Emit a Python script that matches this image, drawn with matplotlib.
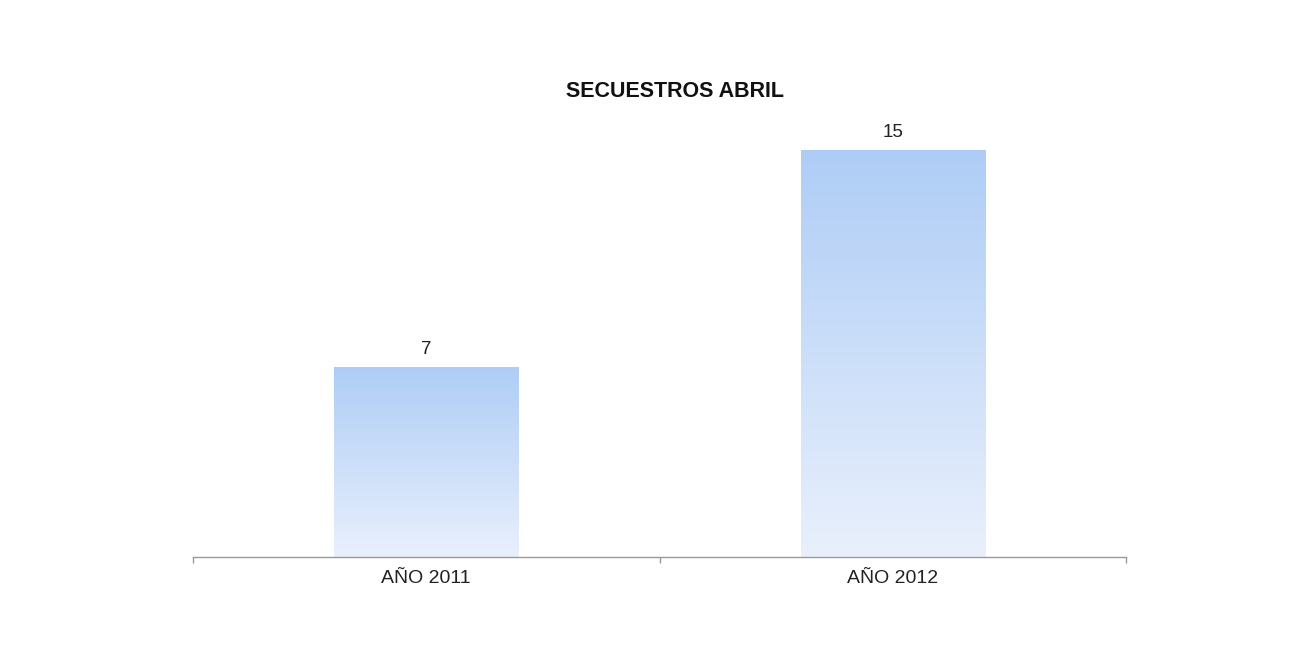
import matplotlib
matplotlib.use("Agg")
import matplotlib.pyplot as plt
import numpy as np
from matplotlib.colors import LinearSegmentedColormap

categories = ["AÑO 2011", "AÑO 2012"]
values = [7, 15]
title = "SECUESTROS ABRIL"

plt.rcParams['font.family'] = ['Liberation Sans', 'DejaVu Sans']

fig = plt.figure(figsize=(13.07, 6.60), dpi=100)
fig.patch.set_facecolor('white')
ax = fig.add_axes([0.1477, 0.156, 0.8615 - 0.1477, 0.8136 - 0.156])

x = np.arange(len(categories))
bars = ax.bar(x, values, width=0.395, color='none', edgecolor='none')
ax.set_xlim(-0.5, len(categories) - 0.5)
ax.set_ylim(0, 16)

cmap = LinearSegmentedColormap.from_list('g', ['#e9f0fc', '#aecdf6'])
grad = np.linspace(0, 1, 256).reshape(-1, 1)
for b, v in zip(bars, values):
    x0, y0 = b.get_x(), b.get_y()
    w, h = b.get_width(), b.get_height()
    im = ax.imshow(grad, cmap=cmap, origin='lower', aspect='auto',
                   extent=(x0, x0 + w, y0, y0 + h), zorder=2)
    im.set_clip_path(b)
    ax.text(x0 + w / 2, y0 + h + 0.33, str(v), ha='center', va='bottom',
            fontsize=13.5, color='#222222')

ax.set_xlim(-0.5, len(categories) - 0.5)
ax.set_ylim(0, 16)

for s in ['top', 'right', 'left']:
    ax.spines[s].set_visible(False)
ax.spines['bottom'].set_color('#9a9a9a')
ax.spines['bottom'].set_linewidth(1.0)
ax.set_yticks([])
ax.set_xticks(x)
ax.set_xticklabels(categories, fontsize=14, color='#222222')
ax.tick_params(axis='x', which='major', length=0, pad=9)
ax.set_xticks(np.arange(-0.5, len(categories), 1.0), minor=True)
ax.tick_params(axis='x', which='minor', length=4, color='#9a9a9a', width=1)

fig.text(0.5165, 0.861, title, ha='center', va='center', fontsize=15.5,
         fontweight='bold', color='#111111')

fig.savefig('out.png', dpi=100, facecolor='white')
